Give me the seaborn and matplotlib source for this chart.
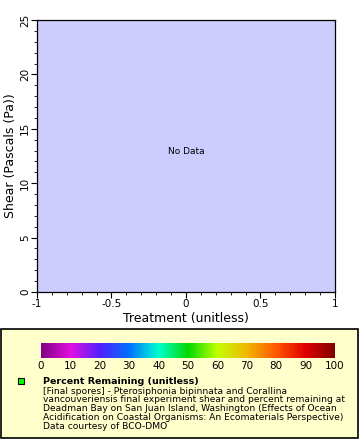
import numpy as np
import pandas as pd
import seaborn as sns
import matplotlib.pyplot as plt
from matplotlib.colors import LinearSegmentedColormap, Normalize
from matplotlib.patches import Rectangle
from matplotlib.ticker import MultipleLocator
import matplotlib as mpl

# data: the reference chart has no points
treatment = []
shear = []
percent_remaining = []

x_ticks = [-1, -0.5, 0, 0.5, 1]
x_tick_labels = ["-1", "-0.5", "0", "0.5", "1"]
y_ticks = [0, 5, 10, 15, 20, 25]
cbar_ticks = [0, 10, 20, 30, 40, 50, 60, 70, 80, 90, 100]

legend_title = "Percent Remaining (unitless)"
legend_lines = [
    "[Final spores] - Pterosiphonia bipinnata and Corallina",
    "vancouveriensis final experiment shear and percent remaining at",
    "Deadman Bay on San Juan Island, Washington (Effects of Ocean",
    "Acidification on Coastal Organisms: An Ecomaterials Perspective)",
    "Data courtesy of BCO-DMO",
]

df = pd.DataFrame({"treatment": pd.Series(treatment, dtype=float),
                   "shear": pd.Series(shear, dtype=float),
                   "percent": pd.Series(percent_remaining, dtype=float)})

sns.set_style("white")
plt.rcParams['font.family'] = ['DejaVu Sans']
plt.rcParams['text.color'] = 'black'
plt.rcParams['axes.labelcolor'] = 'black'
plt.rcParams['xtick.color'] = 'black'
plt.rcParams['ytick.color'] = 'black'

fig = plt.figure(figsize=(3.6, 4.4), dpi=100)

# legend box behind everything
fig.patches.append(Rectangle((1/360, 1 - 438/440), 357/360, 109/440, transform=fig.transFigure,
                             facecolor="#ffffcc", edgecolor="black", linewidth=1.2, zorder=-5))

ax = fig.add_axes([37/360, 1 - 292/440, 298/360, 272/440])
ax.set_facecolor("#ccccff")

sns.scatterplot(data=df, x="treatment", y="shear", ax=ax, color="#00ff00")

ax.set_xlim(-1, 1)
ax.set_ylim(0, 25)
ax.set_xticks(x_ticks)
ax.set_xticklabels(x_tick_labels)
ax.set_yticks(y_ticks)
ax.xaxis.set_minor_locator(MultipleLocator(0.1))
ax.yaxis.set_minor_locator(MultipleLocator(1))
ax.tick_params(which="major", direction="out", length=4, width=0.8, labelsize=7.5, pad=1,
               bottom=True, left=True)
ax.tick_params(which="minor", direction="out", length=2, width=0.6, bottom=True, left=True)
for lab in ax.get_yticklabels():
    lab.set_rotation(90)
    lab.set_va("center")
for s in ax.spines.values():
    s.set_linewidth(0.9)
    s.set_color("black")

ax.set_xlabel("Treatment (unitless)", fontsize=9, labelpad=2)
ax.set_ylabel("Shear (Pascals (Pa))", fontsize=9, labelpad=2)
ax.text(0, 12.9, "No Data", ha="center", va="center", fontsize=6.5)

cmap = LinearSegmentedColormap.from_list("rainbowish", [
    (0.0, "#800080"), (0.1, "#e010e0"), (0.2, "#5020ff"), (0.3, "#0070ff"),
    (0.4, "#00ffd0"), (0.5, "#00d800"), (0.6, "#c0ff00"), (0.7, "#f0b800"),
    (0.8, "#ff5800"), (0.9, "#e00000"), (1.0, "#800000")])
cax = fig.add_axes([41/360, 1 - 358/440, 294/360, 15/440])
cax.set_zorder(2)
cb = mpl.colorbar.ColorbarBase(cax, cmap=cmap, norm=Normalize(0, 100), orientation="horizontal")
cb.set_ticks(cbar_ticks)
cb.outline.set_visible(False)
cax.tick_params(labelsize=7.5, length=0, pad=2)

fig.add_artist(Rectangle((18/360, 1 - 384/440), 6/360, 6/440, transform=fig.transFigure,
                         facecolor="#00ff00", edgecolor="black", linewidth=0.8))
fig.text(43/360, 1 - 381/440, legend_title, fontsize=6.8, fontweight="bold", va="center")
y0 = 391
for i, line in enumerate(legend_lines):
    fig.text(43/360, 1 - (y0 + i*8.8)/440, line, fontsize=6.6, va="center")

fig.savefig("out.png", dpi=100)
